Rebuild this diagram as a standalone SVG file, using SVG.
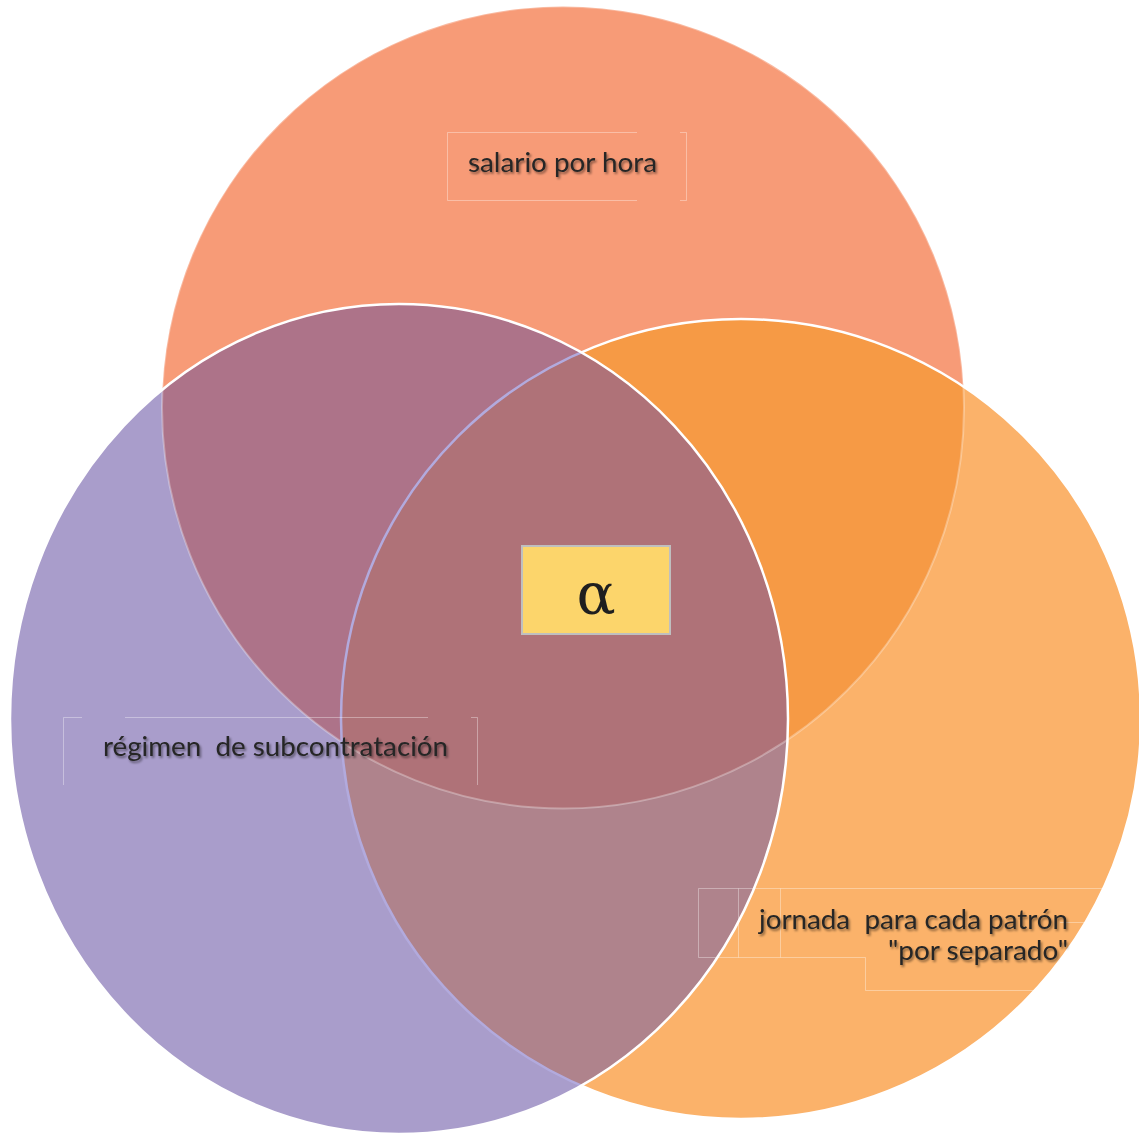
<svg xmlns="http://www.w3.org/2000/svg" width="1139" height="1133" viewBox="0 0 1139 1133">
  <style>
    .lbl { font-family: "Lato", "Open Sans", "Liberation Sans", sans-serif; font-size: 26px; fill: #262626; filter: url(#sh); white-space: pre; }
    .tb { fill: none; stroke: #ffffff; stroke-opacity: 0.35; stroke-width: 1; }
  </style>
  <defs>
    <filter id="sh" x="-10%" y="-30%" width="120%" height="160%">
      <feDropShadow dx="1.5" dy="2" stdDeviation="1.3" flood-color="#000" flood-opacity="0.45"/>
    </filter>
    <clipPath id="cTop"><circle cx="563" cy="407.5" r="401"/></clipPath>
    <clipPath id="cLeft"><ellipse cx="399" cy="719" rx="389" ry="415"/></clipPath>
    <clipPath id="cRight"><circle cx="741" cy="719" r="400"/></clipPath>
    <clipPath id="cNotLeft">
      <path clip-rule="evenodd" d="M-10,-10 H1150 V1150 H-10 Z M10,719 A389,415 0 1,0 788,719 A389,415 0 1,0 10,719 Z"/>
    </clipPath>
  </defs>

  <rect width="1139" height="1133" fill="#ffffff"/>

  <g id="venn">
    <circle id="circle-top" cx="563" cy="407.5" r="401" fill="#F79B77"/>
    <ellipse id="circle-left" cx="399" cy="719" rx="389" ry="415" fill="#A99DCB"/>
    <circle id="circle-right" cx="741" cy="719" r="400" fill="#FBB26A"/>
    <ellipse cx="399" cy="719" rx="389" ry="415" fill="#AD7389" clip-path="url(#cTop)"/>
    <circle cx="741" cy="719" r="400" fill="#F69A45" clip-path="url(#cTop)"/>
    <circle cx="741" cy="719" r="400" fill="#AF838C" clip-path="url(#cLeft)"/>
    <g clip-path="url(#cTop)">
      <circle cx="741" cy="719" r="400" fill="#AF7278" clip-path="url(#cLeft)"/>
    </g>
  </g>

  <g id="connectors">
    <circle cx="563" cy="407.5" r="401" fill="none" stroke="#ffffff" stroke-opacity="0.3" stroke-width="2"/>
    <g clip-path="url(#cNotLeft)">
      <circle cx="741" cy="719" r="400" fill="none" stroke="#ffffff" stroke-width="2.5"/>
    </g>
    <g clip-path="url(#cLeft)">
      <circle cx="741" cy="719" r="400" fill="none" stroke="#B2AADD" stroke-width="2.5"/>
    </g>
    <ellipse cx="399" cy="719" rx="389" ry="415" fill="none" stroke="#ffffff" stroke-width="2.5"/>
  </g>

  <g id="node-salario">
    <path class="tb" d="M447.5,132.5 H637 M447.5,132.5 V200.5 H637 M680,132.5 H686.5 V200.5 H680"/>
    <text class="lbl" x="468" y="172" textLength="189" lengthAdjust="spacingAndGlyphs">salario por hora</text>
  </g>

  <g id="node-regimen">
    <path class="tb" d="M63.5,717.5 H82 M125,717.5 H428 M471,717.5 H477.5 V785 M63.5,717.5 V785"/>
    <text class="lbl" x="103" y="756" textLength="345" lengthAdjust="spacingAndGlyphs">régimen  de subcontratación</text>
  </g>

  <g id="node-jornada">
    <path class="tb" d="M698.5,888.5 H1105 M698.5,888.5 V957.5 H865.5 V990.5 H1100 M738.5,888.5 V957.5 M780.5,888.5 V957.5 M1060,922.5 H1110"/>
    <text class="lbl" x="759" y="929" textLength="309" lengthAdjust="spacingAndGlyphs">jornada  para cada patrón</text>
    <text class="lbl" x="888" y="960" textLength="180" lengthAdjust="spacingAndGlyphs">"por separado"</text>
  </g>

  <g id="node-alpha">
    <rect x="522" y="546" width="148" height="88" fill="#FCD56B" stroke="#BFBFBF" stroke-width="2"/>
    <text x="596" y="614" text-anchor="middle" font-family="DejaVu Serif, serif" font-size="58" fill="#1f1f1f">α</text>
  </g>
</svg>
